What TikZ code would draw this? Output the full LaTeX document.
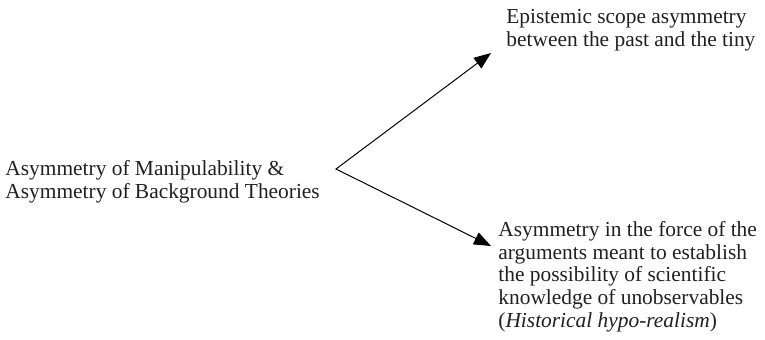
\documentclass[tikz,border=0pt]{standalone}
\usepackage{fontspec}
\setmainfont{Liberation Serif}
\usetikzlibrary{arrows.meta}
\definecolor{inkgray}{HTML}{231F20}

\tikzset{%
	every node/.style = {font = \fontsize{10.7pt}{11.4pt}\selectfont, text = inkgray, inner sep = 0pt, anchor = north west},
	claim/.style = {rectangle},
	cause/.style = {claim},
	effect/.style = {claim},
	forkarrow/.style = {{Triangle[length = 8.5pt, width = 6.5pt]}-{Triangle[length = 8.5pt, width = 6.5pt]}, line width = 0.5pt, draw = black}
}

\begin{document}
\begin{tikzpicture}[x = 0.5pt, y = -0.5pt]
	\useasboundingbox (0,0) rectangle (765,339);
	\node[cause]		(background)	at (5,159)		{\begin{tabular}{@{}l@{}}Asymmetry of Manipulability \&\\Asymmetry of Background Theories\end{tabular}};
	\node[effect]		(scope)			at (506,7.5)	{\begin{tabular}{@{}l@{}}Epistemic scope asymmetry\\between the past and the tiny\end{tabular}};
	\node[effect]		(force)			at (498,220)	{\begin{tabular}{@{}l@{}}Asymmetry in the force of the\\arguments meant to establish\\the possibility of scientific\\knowledge of unobservables\\(\textit{Historical hypo-realism})\end{tabular}};
	\coordinate		(fork)		at (336,169);
	\coordinate		(tipup)		at (491,53);
	\coordinate		(tipdown)	at (491,246);
	\draw[forkarrow]	(tipup) -- (fork) -- (tipdown);
\end{tikzpicture}
\end{document}
